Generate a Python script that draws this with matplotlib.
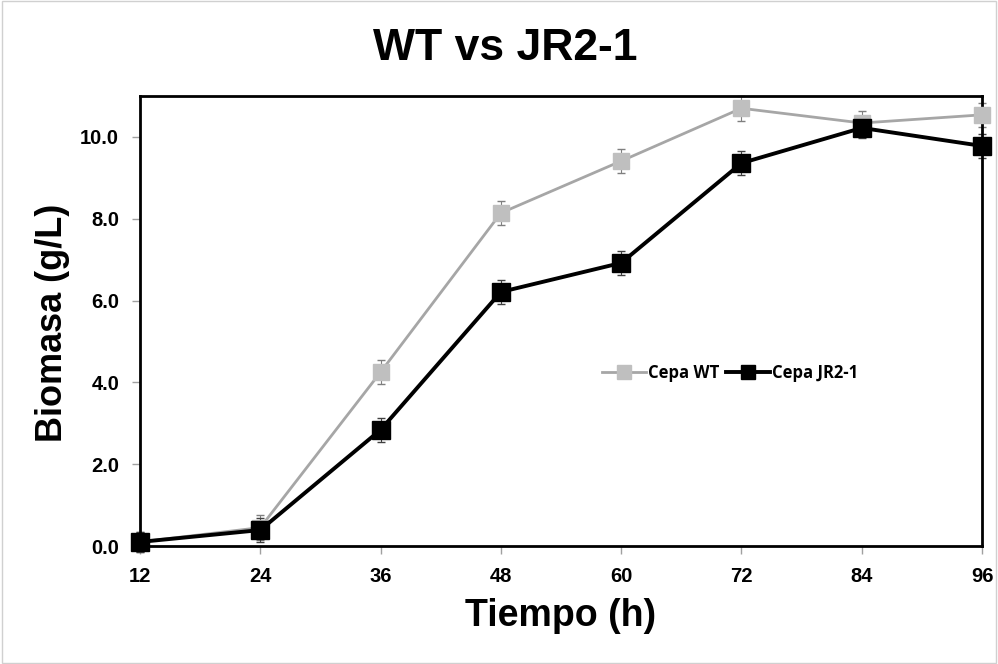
import numpy as np
import matplotlib
matplotlib.use("Agg")
import matplotlib.pyplot as plt
from matplotlib.patches import Rectangle

# data
tiempo = [12, 24, 36, 48, 60, 72, 84, 96]
wt = [0.10, 0.45, 4.25, 8.14, 9.41, 10.70, 10.34, 10.54]
wt_err = [0.25, 0.30, 0.30, 0.30, 0.30, 0.30, 0.30, 0.30]
jr = [0.10, 0.39, 2.84, 6.21, 6.92, 9.36, 10.22, 9.78]
jr_err = [0.25, 0.30, 0.30, 0.30, 0.30, 0.30, 0.25, 0.30]

plt.rcParams['font.family'] = ['Liberation Sans', 'DejaVu Sans']

fig = plt.figure(figsize=(9.98, 6.64), dpi=100)
ax = fig.add_axes([0.1403, 0.1777, 0.8437, 0.6777])

# light frame round the whole figure
fig.patches.append(Rectangle((0.002, 0.002), 0.996, 0.996, transform=fig.transFigure,
                             fill=False, edgecolor='#d0d0d0', linewidth=1))

# error bars first, then the lines (lines alone go in the legend)
ax.errorbar(tiempo, wt, yerr=wt_err, fmt='none', ecolor='#7f7f7f',
            elinewidth=0.8, capsize=3, clip_on=False, zorder=2)
ax.errorbar(tiempo, jr, yerr=jr_err, fmt='none', ecolor='#404040',
            elinewidth=0.8, capsize=3, clip_on=False, zorder=2)
ax.plot(tiempo, wt, color='#a6a6a6', linewidth=2, marker='s', markersize=12,
        markerfacecolor='#bfbfbf', markeredgecolor='#bfbfbf', clip_on=False,
        label='Cepa WT', zorder=3)
ax.plot(tiempo, jr, color='black', linewidth=2.8, marker='s', markersize=13,
        markerfacecolor='black', markeredgecolor='black', clip_on=False,
        label='Cepa JR2-1', zorder=4)

ax.set_xlim(12, 96)
ax.set_ylim(0, 11)
ax.set_xticks(tiempo)
ax.set_yticks([0, 2, 4, 6, 8, 10])
ax.set_yticklabels(['%.1f' % v for v in [0, 2, 4, 6, 8, 10]])
ax.tick_params(axis='both', direction='out', length=6, width=1, color='#a0a0a0',
               labelsize=14.5, pad=9)
for lbl in ax.get_xticklabels() + ax.get_yticklabels():
    lbl.set_fontweight('bold')
for s in ax.spines.values():
    s.set_linewidth(2)
    s.set_color('black')

ax.set_xlabel('Tiempo (h)', fontsize=27, fontweight='bold', va='baseline')
ax.xaxis.set_label_coords(0.5, -0.178)
fig.text(0.035, 0.514, 'Biomasa (g/L)', rotation=90, ha='left', va='center',
         fontsize=26, fontweight='bold')
fig.text(0.506, 1 - 60 / 664, 'WT vs JR2-1', ha='center', va='baseline',
         fontsize=32, fontweight='bold')

leg = ax.legend(loc='center', bbox_to_anchor=(0.701, 0.384), ncol=2, frameon=False,
                prop={'family': 'Open Sans', 'weight': 'bold', 'size': 12},
                handlelength=2.6, columnspacing=0.4, handletextpad=0.15,
                markerscale=0.8)

fig.savefig('out.png', dpi=100)
